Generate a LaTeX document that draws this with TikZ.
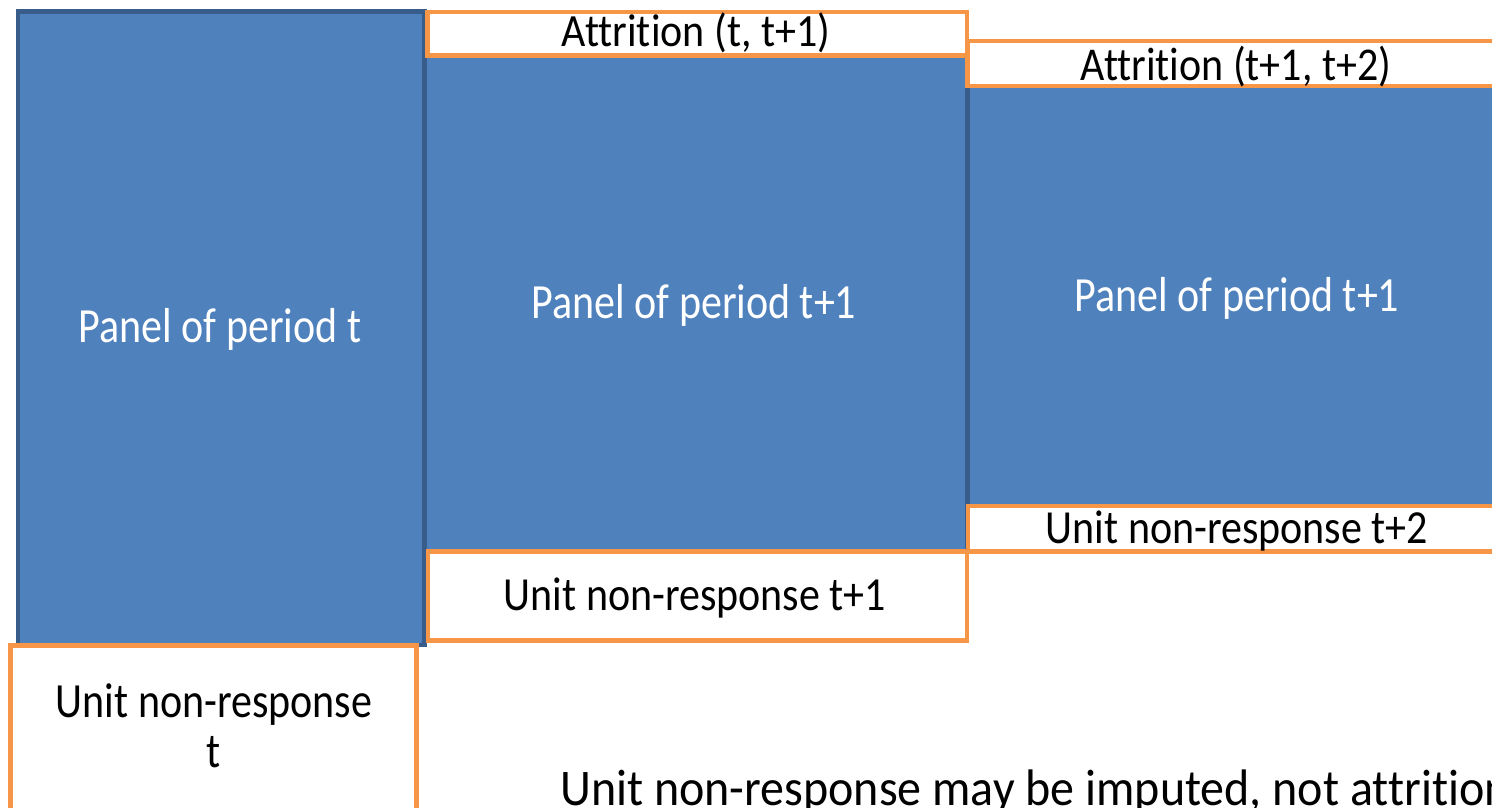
\documentclass[tikz,border=0pt]{standalone}
\usepackage{fontspec}
\setmainfont{Carlito}[Ligatures=NoCommon]
\usepackage{graphicx}
\definecolor{panelfill}{HTML}{4F81BD}
\definecolor{panelline}{HTML}{385D8A}
\definecolor{nrline}{HTML}{F79646}
% vertically stretched text: \vtext{factor}{text}
\newcommand{\vtext}[2]{\scalebox{1}[#1]{#2}}

\begin{document}
\begin{tikzpicture}[x=1pt,y=-1pt,
  panel/.style={fill=panelfill,draw=panelline,line width=4.5pt},
  gapbox/.style={fill=white,draw=nrline,line width=4.5pt},
  lbl/.style={font=\fontsize{42}{50}\selectfont,inner sep=0pt,anchor=base},
  note/.style={font=\fontsize{48}{56}\selectfont,inner sep=0pt,anchor=base west}]
\useasboundingbox (0,0) rectangle (1492,808);
\clip (0,0) rectangle (1492,808);

% panels of the three periods
\draw[panel] (18,11.5) rectangle (424.5,645);
\draw[panel] (424.5,56) rectangle (967.5,551);
\draw[panel] (967.5,86) rectangle (1510,506);

% attrition and unit non-response
\draw[gapbox] (10.5,645.5) rectangle (416.5,830);
\draw[gapbox] (427.5,12) rectangle (967,55.5);
\draw[gapbox] (967.5,41) rectangle (1510,86);
\draw[gapbox] (968,506) rectangle (1510,551.5);
\draw[gapbox] (428,551.5) rectangle (967,640.5);

% labels
\node[lbl,text=white] (p1t) at (220,342) {\vtext{1.17}{Panel of period t}};
\node[lbl,text=white] (p2t) at (694,318) {\vtext{1.17}{Panel of period t+1}};
\node[lbl,text=white] (p3t) at (1237,311) {\vtext{1.17}{Panel of period t+1}};
\node[lbl] (a1t) at (696,47) {\vtext{1.1}{Attrition (t, t+1)}};
\node[lbl] (a2t) at (1236,81) {\vtext{1.12}{Attrition (t+1, t+2)}};
\node[lbl] (n3t) at (1237,543) {\vtext{1.13}{Unit non-response t+2}};
\node[lbl] (n2t) at (695,610) {\vtext{1.13}{Unit non-response t+1}};
\node[lbl] (n1a) at (214,717) {\vtext{1.17}{Unit non-response}};
\node[lbl] (n1b) at (214,767) {\vtext{1.17}{t}};
\node[note] (rem) at (560,805) {\vtext{1.07}{Unit non-response may be imputed, not attrition}};
\end{tikzpicture}
\end{document}
